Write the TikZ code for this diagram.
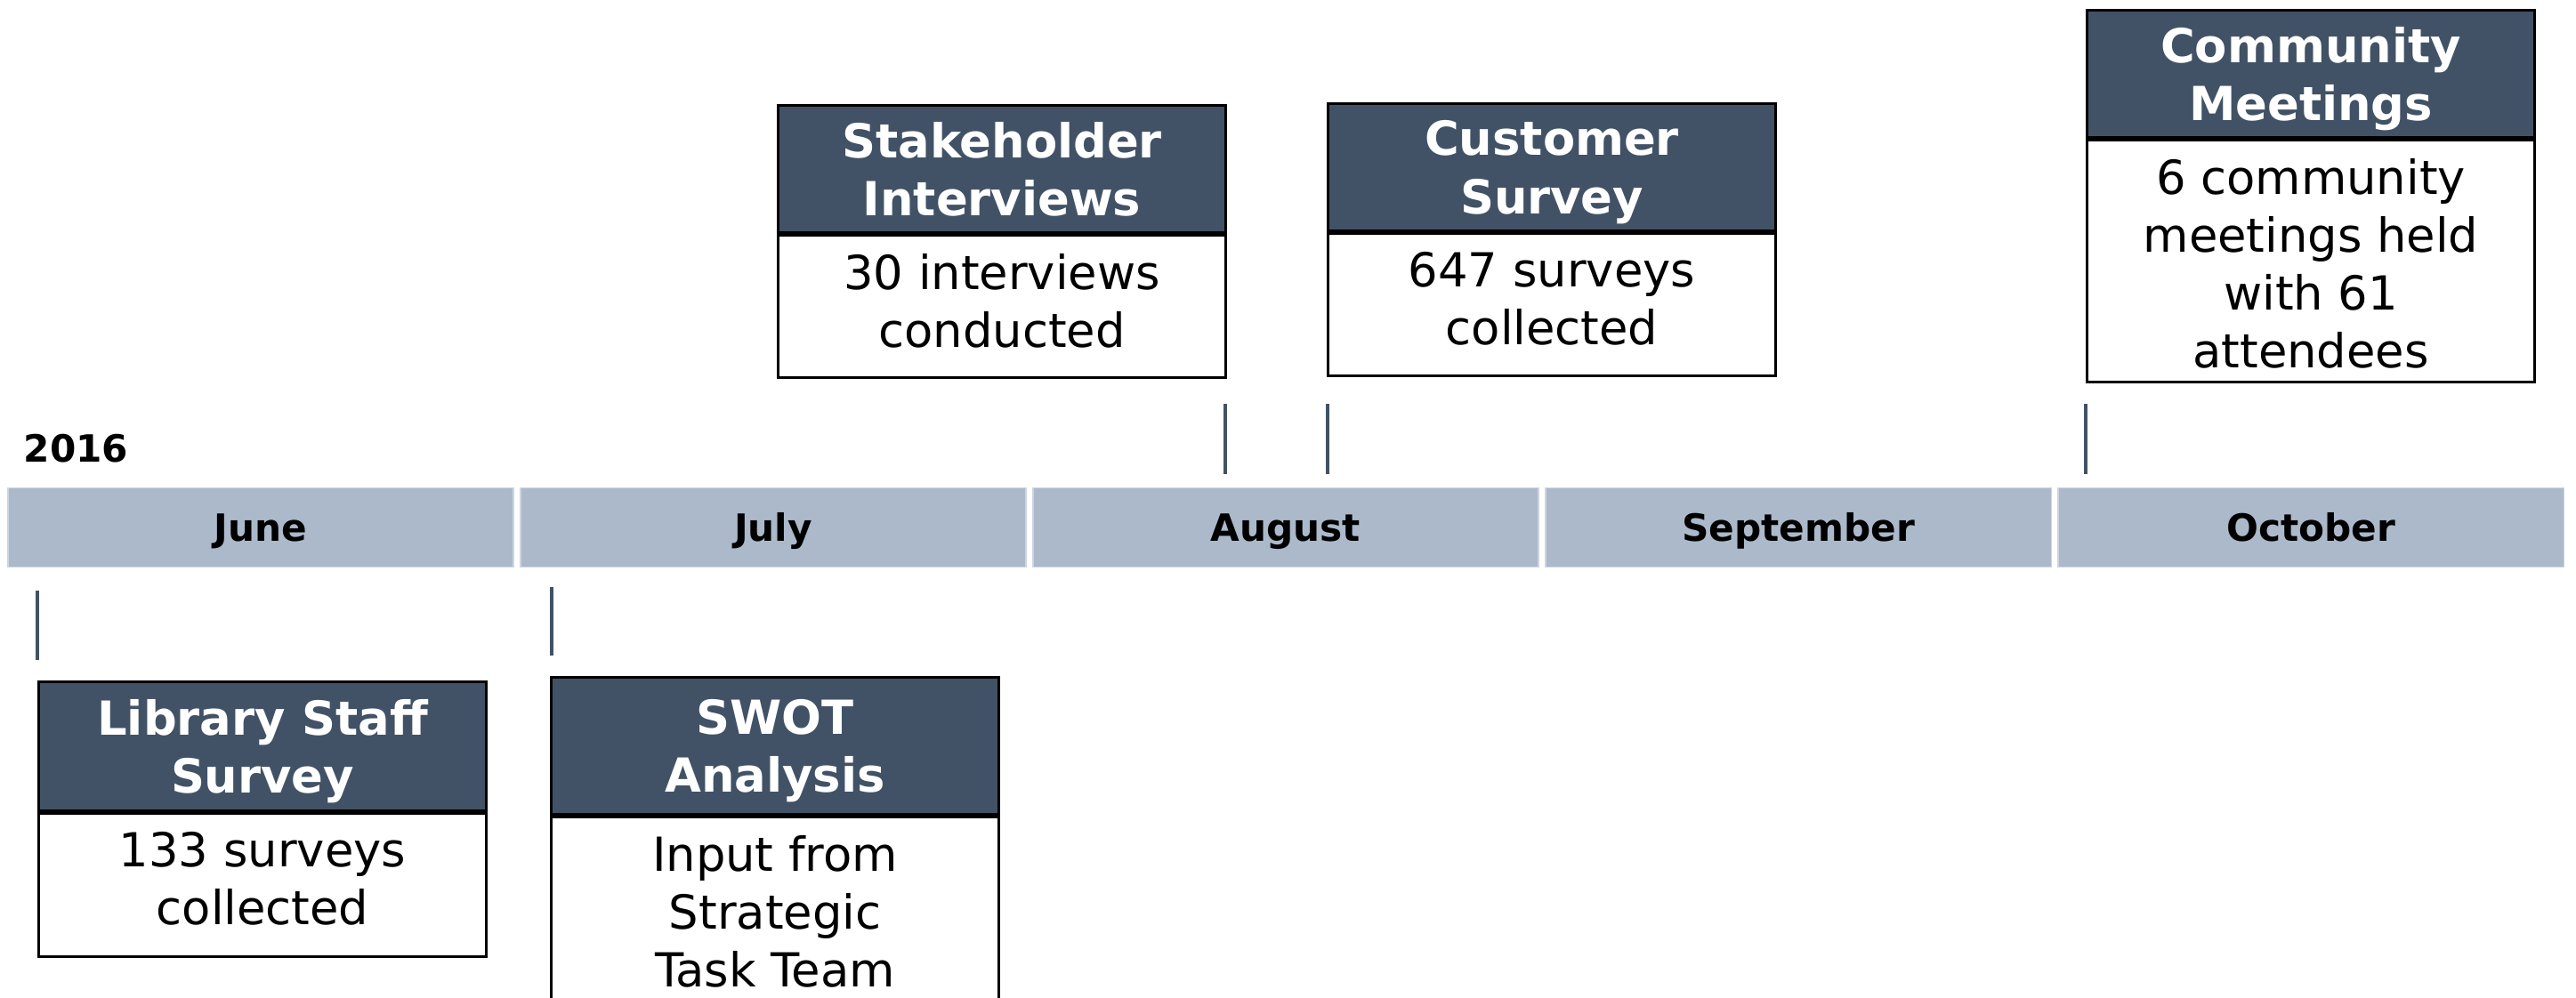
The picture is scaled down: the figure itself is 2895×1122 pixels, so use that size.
\documentclass[tikz,border=0pt]{standalone}
\usepackage{fontspec}
\setmainfont{DejaVu Sans}
\usetikzlibrary{calc}
\definecolor{hdr}{RGB}{66,82,102}
\definecolor{barfill}{RGB}{171,185,202}
\definecolor{barline}{RGB}{205,213,224}
\begin{document}
\begin{tikzpicture}[x=0.01cm,y=-0.01cm,
  monthbar/.style={draw=barline,line width=0.4pt,fill=barfill,minimum width=5.68cm,minimum height=0.89cm,inner sep=0pt,text height=10pt,text depth=1.2pt,font=\fontsize{12}{14}\selectfont\bfseries,text=black},
  hdrbox/.style={draw=black,line width=0.8pt,fill=hdr,text=white,minimum width=5.03cm,minimum height=1.43cm,inner sep=0pt,text depth=0pt,align=center,font=\fontsize{15}{18.5}\selectfont\bfseries},
  bodybox/.style={draw=black,line width=0.8pt,fill=white,minimum width=5.03cm,inner sep=0pt},
  bodytext/.style={anchor=north,inner sep=0pt,align=center,font=\fontsize{15}{18.5}\selectfont},
  tickline/.style={draw=hdr,line width=1.3pt}
]
\useasboundingbox (0,0) rectangle (2895,1122);
\clip (0,0) rectangle (2895,1122);

% year label
\node[anchor=west,inner sep=0pt,font=\fontsize{12}{14}\selectfont\bfseries] (year) at (26,504) {2016};

% month bars
\node[monthbar] (jun) at (293,593) {June};
\node[monthbar] (jul) at (869,593) {July};
\node[monthbar] (aug) at (1445,593) {August};
\node[monthbar] (sep) at (2021,593) {September};
\node[monthbar] (oct) at (2597,593) {October};

% Stakeholder Interviews
\node[hdrbox,anchor=north west] (shh) at (873,117) {Stakeholder\\Interviews};
\node[bodybox,anchor=north west,minimum height=1.60cm] (shb) at (shh.south west) {};
\node[bodytext] (sht) at ($(shb.north)+(0,22)$) {30 interviews\\conducted};

% Customer Survey
\node[hdrbox,anchor=north west] (csh) at (1491,115) {Customer\\Survey};
\node[bodybox,anchor=north west,minimum height=1.60cm] (csb) at (csh.south west) {};
\node[bodytext] (cst) at ($(csb.north)+(0,22)$) {647 surveys\\collected};

% Community Meetings
\node[hdrbox,anchor=north west] (cmh) at (2344,10) {Community\\Meetings};
\node[bodybox,anchor=north west,minimum height=2.72cm] (cmb) at (cmh.south west) {};
\node[bodytext] (cmt) at ($(cmb.north)+(0,22)$) {6 community\\meetings held\\with 61\\attendees};

% Library Staff Survey
\node[hdrbox,anchor=north west,minimum height=1.45cm] (lsh) at (42,765) {Library Staff\\Survey};
\node[bodybox,anchor=north west,minimum height=1.61cm] (lsb) at (lsh.south west) {};
\node[bodytext] (lst) at ($(lsb.north)+(0,22)$) {133 surveys\\collected};

% SWOT Analysis
\node[hdrbox,anchor=north west,minimum height=1.54cm] (swh) at (618,760) {SWOT\\Analysis};
\node[bodybox,anchor=north west,minimum height=3.0cm] (swb) at (swh.south west) {};
\node[bodytext] (swt) at ($(swb.north)+(0,22)$) {Input from\\Strategic\\Task Team};

% tick marks
\coordinate (t1a) at (1377,454); \coordinate (t1b) at (1377,533);
\coordinate (t2a) at (1492,454); \coordinate (t2b) at (1492,533);
\coordinate (t3a) at (2344,454); \coordinate (t3b) at (2344,533);
\coordinate (t4a) at (42,664);  \coordinate (t4b) at (42,742);
\coordinate (t5a) at (620,660); \coordinate (t5b) at (620,737);
\draw[tickline] (t1a) -- (t1b);
\draw[tickline] (t2a) -- (t2b);
\draw[tickline] (t3a) -- (t3b);
\draw[tickline] (t4a) -- (t4b);
\draw[tickline] (t5a) -- (t5b);
\end{tikzpicture}
\end{document}
